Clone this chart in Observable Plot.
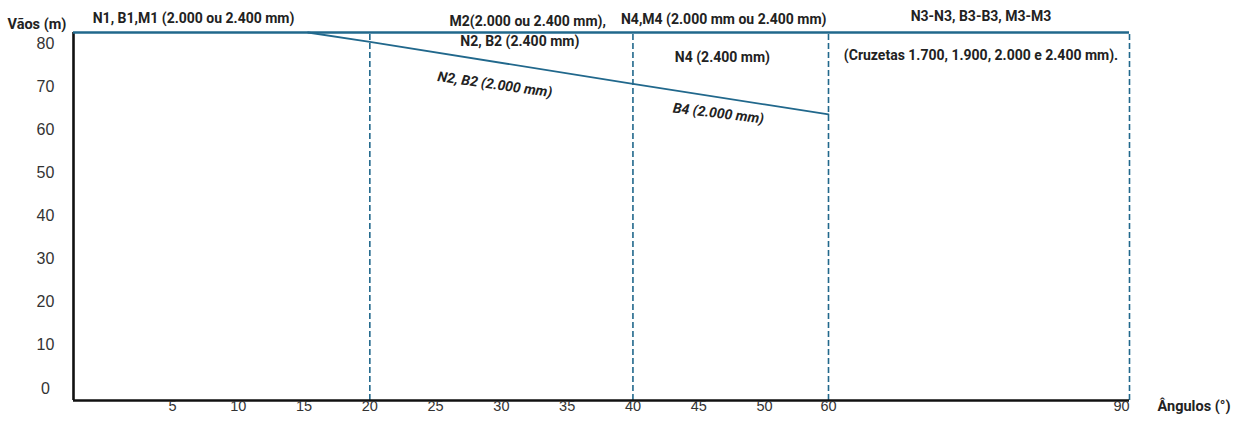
<!DOCTYPE html>
<html>
<head>
<meta charset="utf-8">
<script src="https://cdn.jsdelivr.net/npm/d3@7"></script>
<script src="https://cdn.jsdelivr.net/npm/@observablehq/plot@0.6"></script>
<style>
  html, body { margin: 0; padding: 0; background: #fff; }
  #chart svg { display: block; }
</style>
</head>
<body>
<div id="chart"></div>
<script>
// ---- data ----
const xTicks = [5, 10, 15, 20, 25, 30, 35, 40, 45, 50, 60, 90];
const yTicks = [0, 10, 20, 30, 40, 50, 60, 70, 80];
const boundaries = [20, 40, 60, 90];           // dashed zone limits (°)
const limitAngles = [15.3, 20, 40, 50, 60];     // sloped limit line
const limitSpans  = [82.6, 80.4, 70.7, 65.9, 63.6];
const topSpan = 82.6;                            // horizontal limit (m)
const axisMinX = 0, axisMaxX = 90, axisMinY = -2.8;

const labelTexts = [
  "N1, B1,M1 (2.000 ou 2.400 mm)",
  "M2(2.000 ou 2.400 mm),",
  "N2, B2 (2.400 mm)",
  "N2, B2 (2.000 mm)",
  "N4,M4 (2.000 mm ou 2.400 mm)",
  "N4 (2.400 mm)",
  "B4 (2.000 mm)",
  "N3-N3, B3-B3, M3-M3",
  "(Cruzetas 1.700, 1.900, 2.000 e 2.400 mm)."
];
const labelX = [6.6, 32.0, 31.4, 29.5, 46.9, 46.8, 46.5, 75.2, 75.2];
const labelY = [85.9, 85.2, 80.5, 70.5, 85.6, 76.8, 63.8, 86.3, 77.3];
const labelRotate = [0, 0, 0, 8, 0, 0, 7, 0, 0];
const labelItalic = [false, false, false, true, false, false, true, false, false];

// ---- build ----
const teal = "#21688c";
const line = limitAngles.map((a, i) => ({a, v: limitSpans[i]}));
const labels = labelTexts.map((t, i) => ({t, x: labelX[i], y: labelY[i], r: labelRotate[i], it: labelItalic[i]}));
const bodyFont = "Roboto, 'Liberation Sans', sans-serif";
const tickFont = "'Liberation Sans Narrow', 'Liberation Sans', sans-serif";
const lastTick = xTicks[xTicks.length - 1];

const chart = Plot.plot({
  width: 1246,
  height: 423,
  margin: 0,
  style: {background: "#fff", fontFamily: bodyFont},
  x: {type: "linear", domain: [0, 5, 50, 60, 90], range: [73, 172, 764, 828, 1129], axis: null},
  y: {type: "linear", domain: [axisMinY, topSpan], range: [400, 32], axis: null},
  marks: [
    // dashed zone boundaries
    Plot.ruleX(boundaries, {y1: axisMinY, y2: topSpan, stroke: teal, strokeWidth: 1.6, strokeDasharray: "6,3"}),
    // frame (left & bottom)
    Plot.ruleX([axisMinX], {y1: axisMinY, y2: topSpan, stroke: "#111", strokeWidth: 2.6}),
    Plot.ruleY([axisMinY], {x1: axisMinX, x2: axisMaxX, stroke: "#111", strokeWidth: 2.6}),
    // top horizontal limit
    Plot.ruleY([topSpan], {x1: axisMinX, x2: axisMaxX, stroke: teal, strokeWidth: 2.6}),
    // sloped limit line
    Plot.line(line, {x: "a", y: "v", stroke: teal, strokeWidth: 1.8}),
    // y tick labels
    Plot.text(yTicks, {y: d => d, text: d => String(d), frameAnchor: "left", dx: 45, textAnchor: "middle",
      fontSize: 16, fill: "#333", fontFamily: "'Liberation Sans', Arial, sans-serif"}),
    // x tick labels
    Plot.text(xTicks.filter(d => d !== lastTick), {x: d => d, text: d => String(d), frameAnchor: "bottom", dy: -13,
      fontSize: 14.5, fill: "#333", fontFamily: tickFont}),
    Plot.text([lastTick], {x: d => d, text: d => String(d), frameAnchor: "bottom", dy: -13, dx: -8,
      fontSize: 14.5, fill: "#333", fontFamily: tickFont}),
    // axis titles
    Plot.text(["Vãos (m)"], {frameAnchor: "top-left", dx: 7, dy: 18, textAnchor: "start",
      fontSize: 14.5, fontWeight: "bold", fill: "#222"}),
    Plot.text(["Ângulos (°)"], {frameAnchor: "bottom-right", dx: -16, dy: -13, textAnchor: "end",
      fontSize: 14.5, fontWeight: "bold", fill: "#222"}),
    // zone annotations
    Plot.text(labels.filter(d => !d.it), {x: "x", y: "y", text: "t", rotate: "r",
      fontSize: 14, fontWeight: "bold", fill: "#222"}),
    Plot.text(labels.filter(d => d.it), {x: "x", y: "y", text: "t", rotate: "r",
      fontSize: 14, fontWeight: "bold", fontStyle: "italic", fill: "#222"})
  ]
});
document.getElementById("chart").appendChild(chart);
</script>
</body>
</html>
